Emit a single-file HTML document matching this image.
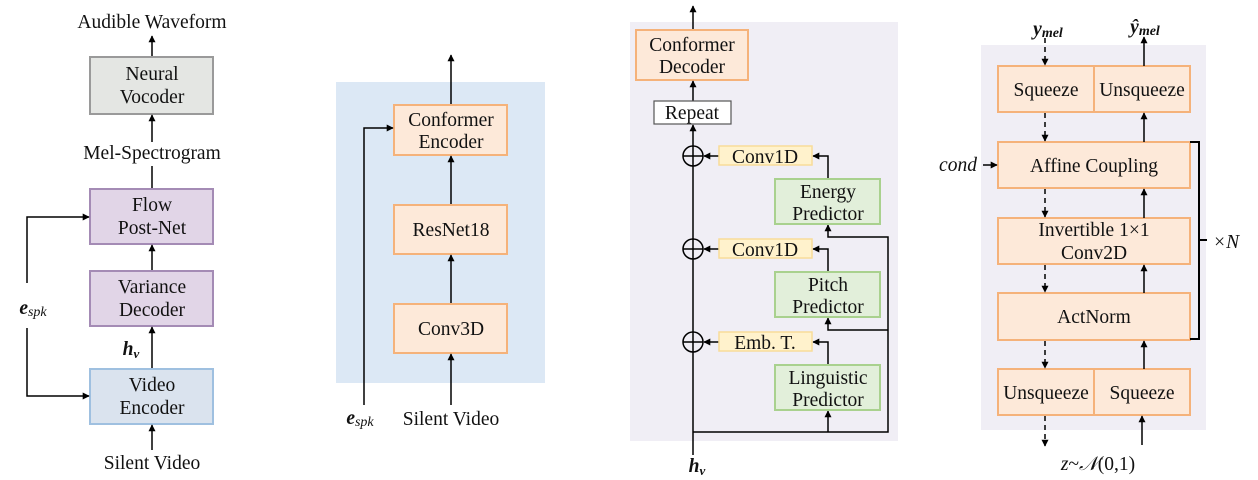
<!DOCTYPE html>
<html><head><meta charset="utf-8"><style>
html,body{margin:0;padding:0;background:#fff;}
svg{display:block;font-family:"Liberation Serif",serif;}
</style></head><body>
<svg width="1258" height="480" viewBox="0 0 1258 480" xmlns="http://www.w3.org/2000/svg">
<defs>
<marker id="a" viewBox="0 0 10 10" refX="9" refY="5" markerWidth="7" markerHeight="7" orient="auto-start-reverse" markerUnits="userSpaceOnUse"><path d="M0,0 L10,5 L0,10 z" fill="#000"/></marker>
</defs>
<g font-size="19.5" text-anchor="middle" fill="#111">
<!-- Panel 1 -->
<text x="152" y="28">Audible Waveform</text>
<line x1="152" y1="57" x2="152" y2="36" stroke="#000" stroke-width="1.5" marker-end="url(#a)"/>
<rect x="90" y="57" width="123" height="57" fill="#e4e6e3" stroke="#9a9a9a" stroke-width="2"/>
<text x="152" y="80">Neural</text><text x="152" y="103">Vocoder</text>
<line x1="152" y1="142" x2="152" y2="115" stroke="#000" stroke-width="1.5" marker-end="url(#a)"/>
<text x="152" y="159">Mel-Spectrogram</text>
<line x1="152" y1="188" x2="152" y2="166" stroke="#000" stroke-width="1.5"/>
<rect x="90" y="189" width="123" height="55" fill="#e1d5e7" stroke="#a48bb5" stroke-width="2"/>
<text x="152" y="211">Flow</text><text x="152" y="234">Post-Net</text>
<line x1="152" y1="270" x2="152" y2="245" stroke="#000" stroke-width="1.5" marker-end="url(#a)"/>
<rect x="90" y="271" width="123" height="55" fill="#e1d5e7" stroke="#a48bb5" stroke-width="2"/>
<text x="152" y="293">Variance</text><text x="152" y="316">Decoder</text>
<line x1="152" y1="368" x2="152" y2="327" stroke="#000" stroke-width="1.5" marker-end="url(#a)"/>
<text x="131" y="355" font-weight="bold" font-style="italic">h<tspan font-size="13" dy="3">v</tspan></text>
<rect x="90" y="369" width="123" height="55" fill="#dae3ee" stroke="#9fc0e0" stroke-width="2"/>
<text x="152" y="391">Video</text><text x="152" y="414">Encoder</text>
<line x1="152" y1="450" x2="152" y2="425" stroke="#000" stroke-width="1.5" marker-end="url(#a)"/>
<text x="152" y="469">Silent Video</text>
<polyline points="27,283 27,217 89,217" fill="none" stroke="#000" stroke-width="1.5" marker-end="url(#a)"/>
<polyline points="27,328 27,396 89,396" fill="none" stroke="#000" stroke-width="1.5" marker-end="url(#a)"/>
<text x="33" y="314" font-weight="bold" font-style="italic">e<tspan font-size="14" font-weight="normal" dy="2">spk</tspan></text>

<!-- Panel 2 -->
<rect x="336" y="82" width="209" height="301" fill="#dce8f5"/>
<line x1="451" y1="104" x2="451" y2="55" stroke="#000" stroke-width="1.5" marker-end="url(#a)"/>
<rect x="394" y="105" width="113" height="50" fill="#fde9d9" stroke="#f5b27a" stroke-width="2"/>
<text x="451" y="126">Conformer</text><text x="451" y="148">Encoder</text>
<line x1="451" y1="205" x2="451" y2="156" stroke="#000" stroke-width="1.5" marker-end="url(#a)"/>
<rect x="394" y="205" width="113" height="49" fill="#fde9d9" stroke="#f5b27a" stroke-width="2"/>
<text x="451" y="236">ResNet18</text>
<line x1="451" y1="304" x2="451" y2="255" stroke="#000" stroke-width="1.5" marker-end="url(#a)"/>
<rect x="394" y="304" width="113" height="49" fill="#fde9d9" stroke="#f5b27a" stroke-width="2"/>
<text x="451" y="335">Conv3D</text>
<line x1="451" y1="405" x2="451" y2="354" stroke="#000" stroke-width="1.5" marker-end="url(#a)"/>
<text x="451" y="425">Silent Video</text>
<polyline points="364,405 364,128 393,128" fill="none" stroke="#000" stroke-width="1.5" marker-end="url(#a)"/>
<text x="360" y="424" font-weight="bold" font-style="italic">e<tspan font-size="14" font-weight="normal" dy="2">spk</tspan></text>

<!-- Panel 3 -->
<rect x="630" y="22" width="268" height="419" fill="#f0eef5"/>
<line x1="693" y1="30" x2="693" y2="6" stroke="#000" stroke-width="1.5" marker-end="url(#a)"/>
<rect x="636" y="30" width="112" height="50" fill="#fde9d9" stroke="#f5b27a" stroke-width="2"/>
<text x="692" y="51">Conformer</text><text x="692" y="73">Decoder</text>
<line x1="693" y1="101" x2="693" y2="81" stroke="#000" stroke-width="1.5" marker-end="url(#a)"/>
<rect x="654" y="101" width="77" height="23" fill="#fff" stroke="#555" stroke-width="1.2"/>
<text x="692" y="119">Repeat</text>
<line x1="693" y1="455" x2="693" y2="125" stroke="#000" stroke-width="1.5" marker-end="url(#a)"/>
<g fill="none" stroke="#000" stroke-width="1.5">
<circle cx="693" cy="156" r="10"/><line x1="683" y1="156" x2="703" y2="156"/>
<circle cx="693" cy="249" r="10"/><line x1="683" y1="249" x2="703" y2="249"/>
<circle cx="693" cy="342" r="10"/><line x1="683" y1="342" x2="703" y2="342"/>
</g>
<g stroke="#000" stroke-width="1.5" fill="none">
<line x1="719" y1="156" x2="704" y2="156" marker-end="url(#a)"/>
<line x1="719" y1="249" x2="704" y2="249" marker-end="url(#a)"/>
<line x1="719" y1="342" x2="704" y2="342" marker-end="url(#a)"/>
<polyline points="828,179 828,156 813,156" marker-end="url(#a)"/>
<polyline points="828,272 828,249 813,249" marker-end="url(#a)"/>
<polyline points="828,365 828,342 813,342" marker-end="url(#a)"/>
<polyline points="693,432 888,432 888,237 828,237 828,225" marker-end="url(#a)"/>
<polyline points="888,330 828,330 828,318" marker-end="url(#a)"/>
<line x1="828" y1="432" x2="828" y2="411" marker-end="url(#a)"/>
</g>
<g fill="#fff2cc" stroke="#f8dc9a" stroke-width="1.5">
<rect x="719" y="146" width="93" height="19"/><rect x="719" y="239" width="93" height="19"/><rect x="719" y="332" width="93" height="19"/>
</g>
<text x="765" y="163">Conv1D</text><text x="765" y="256">Conv1D</text><text x="765" y="349">Emb. T.</text>
<g fill="#e2efda" stroke="#a9d18e" stroke-width="2">
<rect x="775" y="179" width="105" height="45"/><rect x="775" y="272" width="105" height="45"/><rect x="775" y="365" width="105" height="45"/>
</g>
<text x="828" y="198">Energy</text><text x="828" y="220">Predictor</text>
<text x="828" y="291">Pitch</text><text x="828" y="313">Predictor</text>
<text x="828" y="384">Linguistic</text><text x="828" y="406">Predictor</text>
<text x="697" y="472" font-weight="bold" font-style="italic">h<tspan font-size="13" dy="3">v</tspan></text>

<!-- Panel 4 -->
<rect x="981" y="45" width="225" height="385" fill="#f0eef5"/>
<g fill="#fde9d9" stroke="#f5b27a" stroke-width="2">
<rect x="998" y="66" width="96" height="46"/><rect x="1094" y="66" width="96" height="46"/>
<rect x="998" y="142" width="192" height="46"/>
<rect x="998" y="218" width="192" height="46"/>
<rect x="998" y="293" width="192" height="47"/>
<rect x="998" y="369" width="96" height="46"/><rect x="1094" y="369" width="96" height="46"/>
</g>
<text x="1046" y="96">Squeeze</text><text x="1142" y="96">Unsqueeze</text>
<text x="1094" y="172">Affine Coupling</text>
<text x="1094" y="236">Invertible 1×1</text><text x="1094" y="259">Conv2D</text>
<text x="1094" y="323">ActNorm</text>
<text x="1046" y="399">Unsqueeze</text><text x="1142" y="399">Squeeze</text>
<g stroke="#000" stroke-width="1.5" fill="none">
<line x1="1045" y1="38" x2="1045" y2="65" stroke-dasharray="5,4" marker-end="url(#a)"/>
<line x1="1045" y1="113" x2="1045" y2="141" stroke-dasharray="5,4" marker-end="url(#a)"/>
<line x1="1045" y1="189" x2="1045" y2="217" stroke-dasharray="5,4" marker-end="url(#a)"/>
<line x1="1045" y1="265" x2="1045" y2="292" stroke-dasharray="5,4" marker-end="url(#a)"/>
<line x1="1045" y1="341" x2="1045" y2="368" stroke-dasharray="5,4" marker-end="url(#a)"/>
<line x1="1045" y1="416" x2="1045" y2="446" stroke-dasharray="5,4" marker-end="url(#a)"/>
<line x1="1144" y1="66" x2="1144" y2="37" marker-end="url(#a)"/>
<line x1="1144" y1="142" x2="1144" y2="113" marker-end="url(#a)"/>
<line x1="1144" y1="218" x2="1144" y2="189" marker-end="url(#a)"/>
<line x1="1144" y1="293" x2="1144" y2="265" marker-end="url(#a)"/>
<line x1="1144" y1="369" x2="1144" y2="341" marker-end="url(#a)"/>
<line x1="1142" y1="445" x2="1142" y2="416" marker-end="url(#a)"/>
<line x1="983" y1="165" x2="997" y2="165" marker-end="url(#a)"/>
<polyline points="1190,142 1199,142 1199,339 1190,339" stroke-width="2"/>
<line x1="1199" y1="240" x2="1207" y2="240" stroke-width="2"/>
</g>
<text x="1048" y="35" font-weight="bold" font-style="italic">y<tspan font-size="14" dy="2">mel</tspan></text>
<text x="1145" y="33" font-weight="bold" font-style="italic">ŷ<tspan font-size="14" dy="2">mel</tspan></text>
<text x="958" y="171" font-style="italic">cond</text>
<text x="1226" y="248" font-style="italic">×N</text>
<text x="1098" y="470"><tspan font-style="italic">z</tspan>~<tspan font-style="italic">𝒩</tspan>(0,1)</text>
</g>
</svg>
</body></html>
